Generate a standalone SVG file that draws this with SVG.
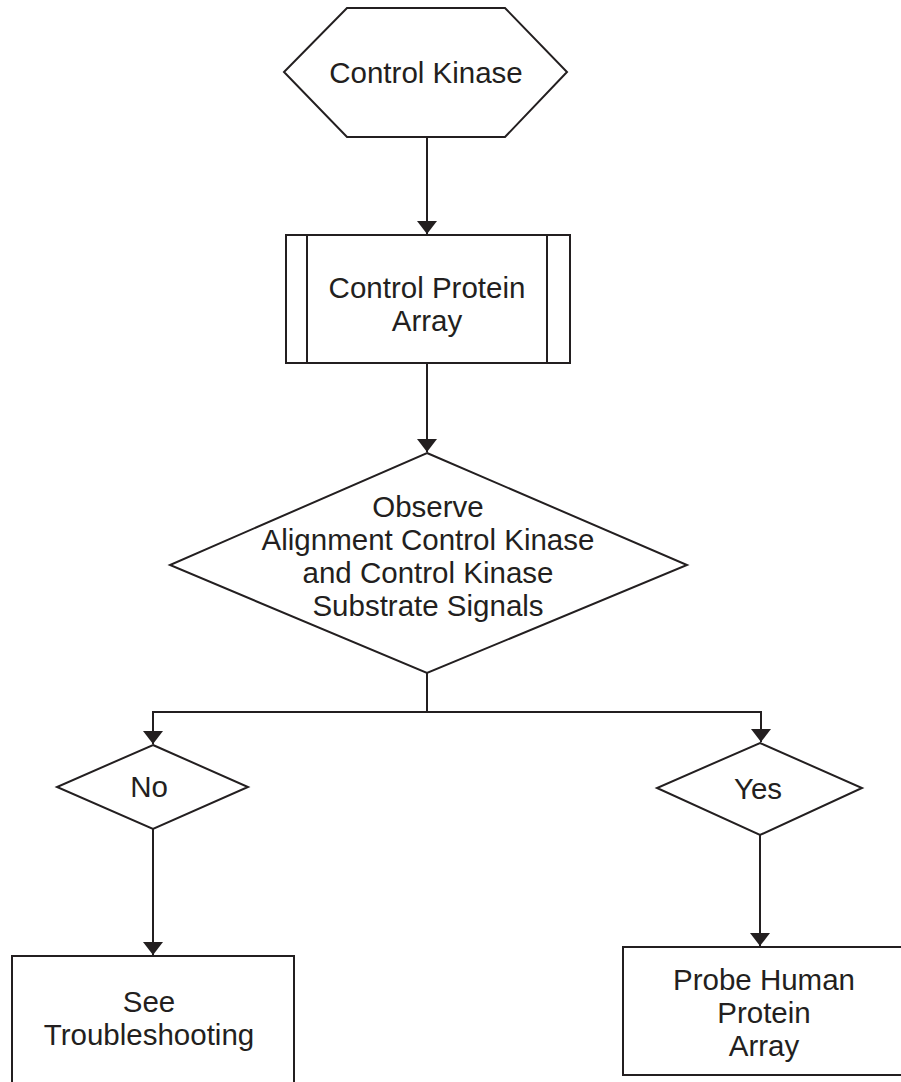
<svg xmlns="http://www.w3.org/2000/svg" width="901" height="1082" viewBox="0 0 901 1082">
<style>
.shape{fill:#ffffff;stroke:#231f20;stroke-width:2}
.conn{fill:none;stroke:#231f20;stroke-width:2}
.lbl{font-family:"Liberation Sans",Arial,Helvetica,sans-serif;font-size:29.5px;fill:#231f20;text-anchor:middle}
</style>
<defs>
<marker id="arr" viewBox="0 0 13 20" refX="13" refY="10" markerWidth="13" markerHeight="20" orient="auto" markerUnits="userSpaceOnUse">
<path d="M0,0 L13,10 L0,20 z" fill="#231f20"/>
</marker>
</defs>
<rect width="901" height="1082" fill="#ffffff"/>
<g id="connectors">
<line class="conn" x1="427" y1="137" x2="427" y2="234" marker-end="url(#arr)"/>
<line class="conn" x1="427" y1="363" x2="427" y2="452" marker-end="url(#arr)"/>
<polyline class="conn" points="427,673 427,712"/>
<polyline class="conn" points="153,712 761,712"/>
<line class="conn" x1="153" y1="711" x2="153" y2="744" marker-end="url(#arr)"/>
<line class="conn" x1="761" y1="711" x2="761" y2="742" marker-end="url(#arr)"/>
<line class="conn" x1="153" y1="829" x2="153" y2="955" marker-end="url(#arr)"/>
<line class="conn" x1="760" y1="835" x2="760" y2="946" marker-end="url(#arr)"/>
</g>
<g id="control-kinase">
<polygon class="shape" points="347,8 505,8 567,72 505,137 347,137 284,72"/>
<text class="lbl" x="426" y="83">Control Kinase</text>
</g>
<g id="control-protein-array">
<rect class="shape" x="286" y="235" width="284" height="128"/>
<line class="conn" x1="307" y1="235" x2="307" y2="363"/>
<line class="conn" x1="547" y1="235" x2="547" y2="363"/>
<text class="lbl" x="427" y="298">Control Protein</text>
<text class="lbl" x="427" y="331">Array</text>
</g>
<g id="observe-decision">
<polygon class="shape" points="427,453 687,565 427,673 170,565"/>
<text class="lbl" x="428" y="517">Observe</text>
<text class="lbl" x="428" y="550">Alignment Control Kinase</text>
<text class="lbl" x="428" y="583">and Control Kinase</text>
<text class="lbl" x="428" y="616">Substrate Signals</text>
</g>
<g id="no">
<polygon class="shape" points="153,745 248,787 153,829 57,787"/>
<text class="lbl" x="149" y="797">No</text>
</g>
<g id="yes">
<polygon class="shape" points="760,743 862,788 760,835 657,788"/>
<text class="lbl" x="758" y="799">Yes</text>
</g>
<g id="see-troubleshooting">
<rect class="shape" x="12" y="956" width="282" height="140"/>
<text class="lbl" x="149" y="1012">See</text>
<text class="lbl" x="149" y="1045">Troubleshooting</text>
</g>
<g id="probe-human-protein-array">
<rect class="shape" x="623" y="947" width="290" height="128"/>
<text class="lbl" x="764" y="990">Probe Human</text>
<text class="lbl" x="764" y="1023">Protein</text>
<text class="lbl" x="764" y="1056">Array</text>
</g>
</svg>
